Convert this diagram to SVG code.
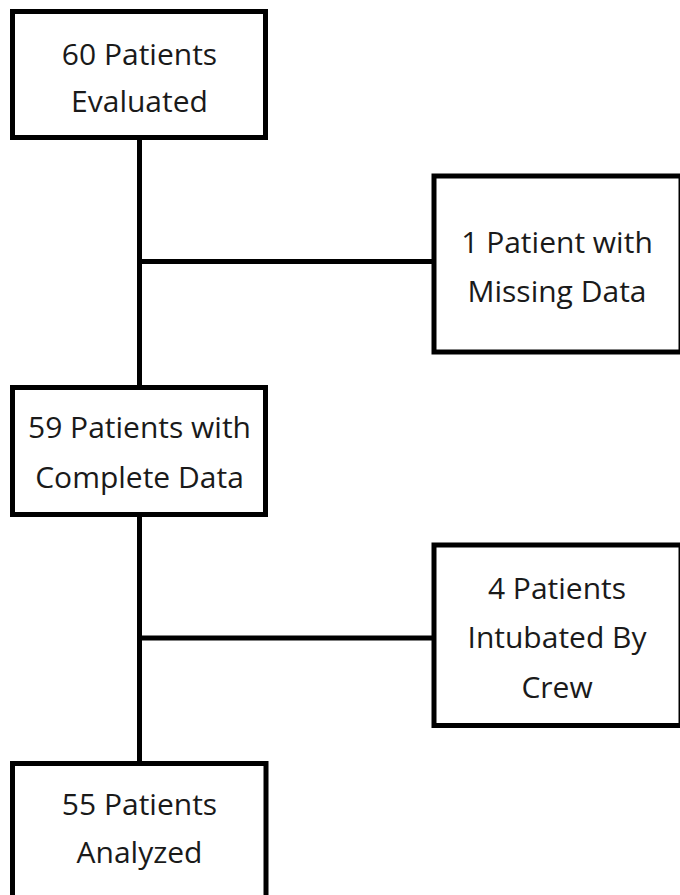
<svg xmlns="http://www.w3.org/2000/svg" width="680" height="895" viewBox="0 0 680 895">
<style>
.box{fill:#fff;stroke:#000;stroke-width:5}
.ln{stroke:#000;stroke-width:5;fill:none}
text{font-family:"Open Sans","Noto Sans",sans-serif;font-size:30px;fill:#1a1a1a;text-anchor:middle}
</style>
<rect width="680" height="895" fill="#fff"/>
<g id="connectors">
<line class="ln" x1="139.5" y1="137" x2="139.5" y2="388"/>
<line class="ln" x1="139.5" y1="261.5" x2="434" y2="261.5"/>
<line class="ln" x1="139.5" y1="514" x2="139.5" y2="764"/>
<line class="ln" x1="139.5" y1="638" x2="434" y2="638"/>
</g>
<g id="n1">
<rect class="box" x="12.5" y="11.5" width="253" height="126"/>
<text x="139.5" y="65">60 Patients</text>
<text x="139.5" y="112">Evaluated</text>
</g>
<g id="n2">
<rect class="box" x="434" y="176" width="247" height="176"/>
<text x="557" y="253">1 Patient with</text>
<text x="557" y="302">Missing Data</text>
</g>
<g id="n3">
<rect class="box" x="12.5" y="387.5" width="253" height="127"/>
<text x="139.5" y="438">59 Patients with</text>
<text x="139.5" y="488">Complete Data</text>
</g>
<g id="n4">
<rect class="box" x="434" y="545" width="247" height="180.5"/>
<text x="557" y="599">4 Patients</text>
<text x="557" y="648">Intubated By</text>
<text x="557" y="698">Crew</text>
</g>
<g id="n5">
<rect class="box" x="12.5" y="763.5" width="253.5" height="136"/>
<text x="139.5" y="815">55 Patients</text>
<text x="139.5" y="863">Analyzed</text>
</g>
</svg>
